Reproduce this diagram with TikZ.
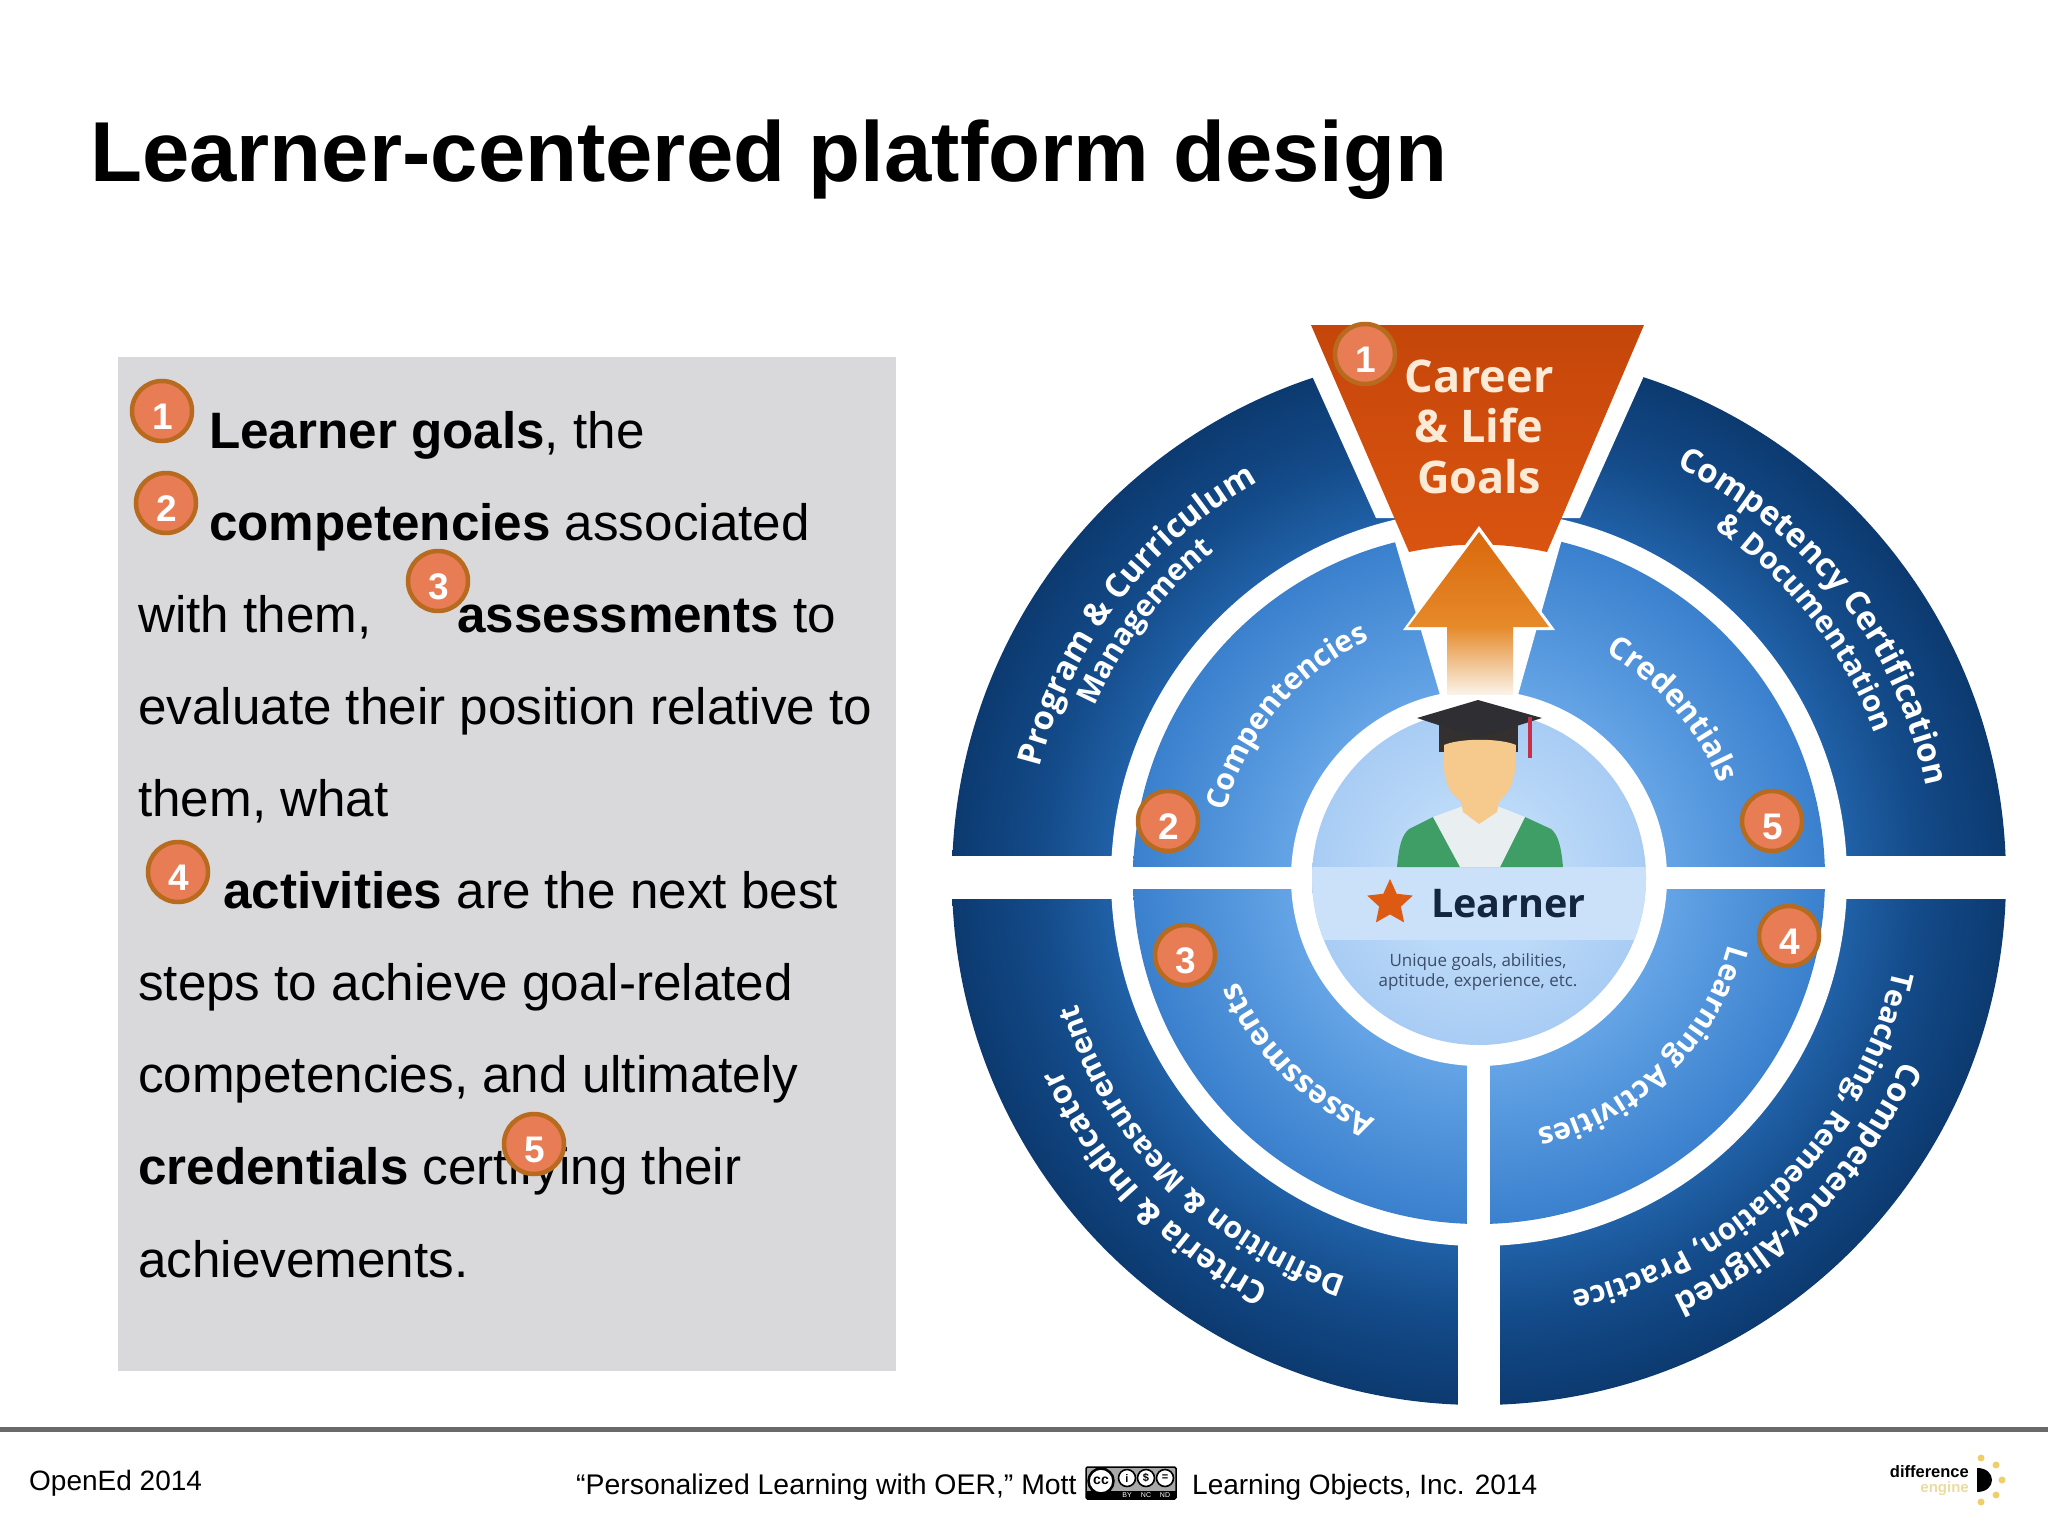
\documentclass[tikz,border=0pt]{standalone}
\usepackage{fontspec}
\setmainfont{Liberation Sans}
\newfontfamily\dgm{Open Sans}
\usetikzlibrary{decorations.text,shapes.geometric}
\definecolor{ringdark}{HTML}{0C3A70}
\definecolor{ringmid}{HTML}{134A88}
\definecolor{ringin}{HTML}{2060A6}
\definecolor{lightout}{HTML}{3A80CD}
\definecolor{lightin}{HTML}{64A4E6}
\definecolor{coreout}{HTML}{A8CCF4}
\definecolor{corein}{HTML}{BBD9F8}
\definecolor{badgefill}{HTML}{E87C55}
\definecolor{badgeline}{HTML}{B86A1E}
\definecolor{panelgrey}{HTML}{D9D8DA}
\definecolor{rulegrey}{HTML}{6A6A6A}
\definecolor{trapdark}{HTML}{C5460A}
\definecolor{traplight}{HTML}{DA5410}
\definecolor{arrowtop}{HTML}{D9680C}
\definecolor{arrowmid}{HTML}{E68A2A}
\definecolor{arrowend}{HTML}{FAF3E8}
\definecolor{careertext}{HTML}{FBEBD6}
\definecolor{sunyellow}{HTML}{F0CF6A}
\definecolor{starorange}{HTML}{DD5A12}
\definecolor{learnerink}{HTML}{14263F}
\definecolor{subink}{HTML}{3B4C68}
\definecolor{enginey}{HTML}{ECDCA0}
\definecolor{coreband}{HTML}{CBE1FA}
\definecolor{gown}{HTML}{3F9E66}
\definecolor{shirt}{HTML}{E9EEF0}
\definecolor{hair}{HTML}{33302F}
\definecolor{skin}{HTML}{F6C98C}
\definecolor{capink}{HTML}{2E2E33}
\definecolor{tassel}{HTML}{C8304A}
\definecolor{ccgrey}{HTML}{A8A8A8}
\pgfdeclareradialshading{outershade}{\pgfpoint{0bp}{0bp}}{color(0bp)=(ringin); color(17.5bp)=(ringin); color(21bp)=(ringmid); color(25bp)=(ringdark); color(50bp)=(ringdark)}
\pgfdeclareradialshading{lightshade}{\pgfpoint{0bp}{0bp}}{color(0bp)=(lightin); color(13.6bp)=(lightin); color(25bp)=(lightout); color(50bp)=(lightout)}
\pgfdeclareradialshading{coreshade}{\pgfpoint{0bp}{0bp}}{color(0bp)=(corein); color(12bp)=(corein); color(25bp)=(coreout); color(50bp)=(coreout)}
\newcommand{\dg}[1]{\raisebox{-6pt}[\height][\depth]{\hspace{2pt}#1}}
\tikzset{
  badge/.style={circle,draw=badgeline,line width=4.5pt,fill=badgefill,minimum size=60pt,inner sep=0pt,text=white,font=\fontsize{37}{37}\selectfont\bfseries},
  body/.style={anchor=base west,inner sep=0pt,font=\fontsize{51.2}{51.2}\selectfont,text=black},
  foot/.style={anchor=base west,inner sep=0pt,font=\fontsize{28}{28}\selectfont,text=black},
  career/.style={inner sep=0pt,text=careertext,font=\dgm\fontsize{45}{45}\selectfont\bfseries},
  ccsmall/.style={circle,draw=black,line width=1.6pt,fill=white,minimum size=17pt,inner sep=0pt,font=\fontsize{11}{11}\selectfont\bfseries},
  sundot/.style={circle,fill=sunyellow,minimum size=7pt,inner sep=0pt},
}
\newcommand{\ringtext}[5]{% mid angle, half angle, radius, size, text
  \path[decorate,decoration={text along path,text color=white,text align=center,
    text={|\dgm\fontsize{#4}{#4}\selectfont\bfseries|#5}}]
    (1479pt,-878pt) ++({#1+#2}:#3pt) arc[start angle={#1+#2},delta angle={-2*#2},radius=#3pt];
}
\begin{document}
\begin{tikzpicture}[x=1pt,y=-1pt]
\useasboundingbox (0,0) rectangle (2048,1536);
\fill[white] (0,0) rectangle (2048,1536);
\node[anchor=base west,inner sep=0pt,font=\fontsize{85.1}{85.1}\selectfont\bfseries] (title) at (90,182) {Learner-centered platform design};
\fill[panelgrey] (118,357) rectangle (896,1371);
\node[body] (l1) at (209,448) {\textbf{Learner goals}, the};
\node[body] (l2) at (209,540) {\textbf{competencies} associated};
\node[body] (l3a) at (138,632) {with them,};
\node[body] (l3b) at (457,632) {\textbf{assessments} to};
\node[body] (l4) at (138,724) {evaluate their position relative to};
\node[body] (l5) at (138,816) {them, what};
\node[body] (l6) at (223,908) {\textbf{activities} are the next best};
\node[body] (l7) at (138,1000) {steps to achieve goal-related};
\node[body] (l8) at (138,1092) {competencies, and ultimately};
\node[body] (l9) at (138,1184) {\textbf{credentials} certifying their};
\node[body] (l10) at (138,1277) {achievements.};
% rings
\shade[shading=outershade] (1479,878) circle[radius=527pt];
\fill[white] (940,856) rectangle (2020,899);
\fill[white] (1458,878) rectangle (1500,1410);
\fill[white] (1286,318) -- (1670,318) -- (1580,518) -- (1376,518) -- cycle;
\fill[white] (1479,878) circle[radius=368pt];
\shade[shading=lightshade] (1479,878) circle[radius=346pt];
\fill[white] (1125,867) rectangle (1835,889);
\fill[white] (1467,878) rectangle (1490,1230);
\fill[white] (1390,525) -- (1566,525) -- (1518,695) -- (1440,695) -- cycle;
\fill[white] (1479,878) circle[radius=188pt];
\begin{scope}
  \clip (1479,878) circle[radius=167pt];
  \shade[shading=coreshade] (1479,878) circle[radius=167pt];
  \fill[coreband] (1300,867) rectangle (1660,940);
\end{scope}
% trapezoid
\shade[top color=trapdark,bottom color=traplight] (1311,325) -- (1644,325) -- (1547,552) .. controls (1500,542) and (1458,542) .. (1409,552) -- cycle;
% arrow
\fill[white] (1479,526) -- (1555,630) -- (1517,630) -- (1517,700) -- (1443,700) -- (1443,630) -- (1403,630) -- cycle;
\shade[top color=arrowtop,bottom color=arrowmid] (1479,532) -- (1549,627) -- (1408,627) -- cycle;
\shade[top color=arrowmid,bottom color=arrowend] (1447,627) rectangle (1513,694);
% person
\fill[gown] (1397,867) .. controls (1399,845) and (1402,835) .. (1409,829) -- (1433,817) -- (1525,817) -- (1551,829) .. controls (1558,835) and (1561,845) .. (1563,867) -- cycle;
\fill[shirt] (1433,817) -- (1463,806) -- (1497,806) -- (1525,817) -- (1500,867) -- (1460,867) -- cycle;
\fill[hair] (1439,720) rectangle (1518,752);
\fill[skin] (1444,745) .. controls (1460,738) and (1500,738) .. (1516,745) -- (1515,770) .. controls (1512,790) and (1505,795) .. (1499,802) -- (1497,812) -- (1479,824) -- (1463,812) -- (1461,802) .. controls (1453,795) and (1447,790) .. (1444,770) -- cycle;
\fill[capink] (1417,718) -- (1478,700) -- (1542,718) -- (1478,738) -- cycle;
\draw[tassel,line width=4pt] (1530,717) -- (1530,758);
\node[star,star points=5,star point ratio=2.1,fill=starorange,minimum size=48pt,inner sep=0pt] (star) at (1390,903) {};
\node[anchor=base west,inner sep=0pt,text=learnerink,font=\dgm\fontsize{39.5}{39.5}\selectfont\bfseries] (learner) at (1431,917) {Learner};
\node[inner sep=0pt,text=subink,align=center,font=\dgm\fontsize{17}{20}\selectfont] (sub) at (1478,972) {Unique goals, abilities,\\aptitude, experience, etc.};
\node[career] (c1) at (1479,376) {Career};
\node[career] (c2) at (1479,426) {\& Life};
\node[career] (c3) at (1479,477) {Goals};
% curved labels
\ringtext{142.5}{60}{453}{33}{Program {\&} Curriculum}
\ringtext{142.5}{50}{421}{30}{Management}
\ringtext{38}{60}{456}{33}{Competency Certification}
\ringtext{38}{50}{421}{30}{{\&} Documentation}
\ringtext{140}{60}{262}{30}{Compentencies}
\ringtext{41}{60}{258}{31}{Credentials}
\ringtext{225}{60}{262}{31}{Assessments}
\ringtext{-46}{60}{258}{30}{Learning Activities}
\ringtext{-44.2}{60}{461}{32.7}{Competency-Aligned}
\ringtext{-45}{60}{424}{30}{Teaching, Remediation, Practice}
\ringtext{224.5}{60}{421}{30}{Definition {\&} Measurement}
\ringtext{223.7}{60}{460}{32.2}{Criteria {\&} Indicator}
% badges
\node[badge] (p1) at (162,411) {\dg{1}};
\node[badge] (p2) at (166,503) {\dg{2}};
\node[badge] (p3) at (438,581) {\dg{3}};
\node[badge] (p4) at (178,872) {\dg{4}};
\node[badge] (p5) at (534,1144) {\dg{5}};
\node[badge] (d1) at (1365,354) {\dg{1}};
\node[badge] (d2) at (1168,821) {\dg{2}};
\node[badge] (d5) at (1772,821) {\dg{5}};
\node[badge] (d3) at (1185,955) {\dg{3}};
\node[badge] (d4) at (1789,936) {\dg{4}};
% footer
\fill[rulegrey] (0,1427) rectangle (2048,1432);
\node[foot] (f1) at (29,1490) {OpenEd 2014};
\node[foot,font=\fontsize{28.4}{28.4}\selectfont] (f2) at (576,1494) {“Personalized Learning with OER,” Mott};
\node[foot] (f3) at (1192,1494) {Learning Objects, Inc. 2014};
\filldraw[fill=ccgrey,draw=black,line width=1.5pt,rounded corners=1.5pt] (1086,1467) rectangle (1176,1499);
\fill[black] (1086,1491) rectangle (1176,1499);
\node[circle,draw=black,line width=2.5pt,fill=white,minimum size=25pt,inner sep=0pt,font=\fontsize{14}{14}\selectfont\bfseries] (cc) at (1101,1481) {cc};
\node[ccsmall] (by) at (1127,1478) {i};
\node[ccsmall] (nc) at (1146,1478) {\$};
\node[ccsmall] (nd) at (1165,1478) {=};
\node[inner sep=0pt,text=white,font=\fontsize{7}{7}\selectfont] (by2) at (1127,1495) {BY};
\node[inner sep=0pt,text=white,font=\fontsize{7}{7}\selectfont] (nc2) at (1146,1495) {NC};
\node[inner sep=0pt,text=white,font=\fontsize{7}{7}\selectfont] (nd2) at (1165,1495) {ND};
% logo
\node[anchor=base east,inner sep=0pt,font=\fontsize{16.5}{16.5}\selectfont\bfseries] (logo1) at (1969,1477) {difference};
\node[anchor=base east,inner sep=0pt,text=enginey,font=\fontsize{15}{15}\selectfont\bfseries] (logo2) at (1969,1492) {engine};
\fill[black] (1977,1468) .. controls (1997,1468) and (1997,1492) .. (1977,1492) -- cycle;
\node[sundot] (s1) at (1981,1458) {};
\node[sundot] (s2) at (1996,1465) {};
\node[sundot] (s3) at (2002,1480) {};
\node[sundot] (s4) at (1996,1495) {};
\node[sundot] (s5) at (1981,1502) {};
\end{tikzpicture}
\end{document}
